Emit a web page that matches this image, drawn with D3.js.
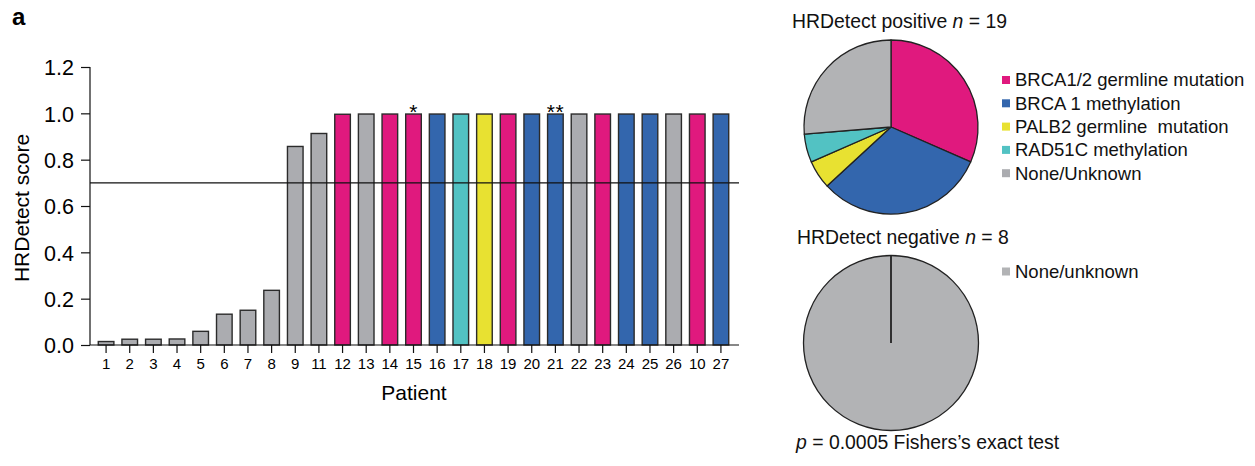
<!DOCTYPE html>
<html>
<head>
<meta charset="utf-8">
<script src="https://cdn.jsdelivr.net/npm/d3@7"></script>
<style>
  body { margin: 0; background: #fff; }
  svg { font-family: "Liberation Sans", Arial, Helvetica, sans-serif; }
</style>
</head>
<body>
<svg id="chart" width="1255" height="466"></svg>
<script>
// bar chart data
const patients = ["1","2","3","4","5","6","7","8","9","11","12","13","14","15","16","17","18","19","20","21","22","23","24","25","26","10","27"];
const scores = [0.015,0.025,0.025,0.026,0.059,0.133,0.150,0.236,0.857,0.913,0.996,0.997,0.997,0.997,0.997,0.997,0.997,0.997,0.997,0.997,0.997,0.997,0.997,0.997,0.997,0.997,0.997];
const groups = ["none","none","none","none","none","none","none","none","none","none","brca","none","brca","brca","meth","rad51c","palb2","brca","meth","meth","none","brca","meth","meth","none","brca","meth"];
const stars = ["","","","","","","","","","","","","","*","","","","","","**","","","","","","",""];
const threshold = 0.7;
const yTicks = [0.0,0.2,0.4,0.6,0.8,1.0,1.2];

// pie data
const categories = ["BRCA1/2 germline mutation","BRCA 1 methylation","PALB2 germline  mutation","RAD51C methylation","None/Unknown"];
const categoryKeys = ["brca","meth","palb2","rad51c","none"];
const positiveCounts = [6,6,1,1,5];
const negativeLabels = ["None/unknown"];
const negativeCounts = [8];

const colors = {brca: "#E0197E", meth: "#3366AD", palb2: "#E8E131", rad51c: "#52C2C3", none: "#ABACB0"};
const pieGrey = "#B2B3B5";

const svg = d3.select("#chart");

// panel label
svg.append("text").attr("x", 12).attr("y", 25)
   .attr("font-size", 24).attr("font-weight", "bold").text("a");

// scales
let x = d3.scaleBand().domain(d3.range(patients.length))
          .range([90, 737]).paddingInner(0.34).paddingOuter(0.35);
let y = d3.scaleLinear().domain([0, 1.2]).range([345, 67]);

// bars
svg.selectAll("rect.bar")
   .data(scores).enter()
   .append("rect")
   .attr("class", "bar")
   .attr("x", (d, i) => x(i))
   .attr("width", x.bandwidth())
   .attr("y", d => y(d))
   .attr("height", d => y(0) - y(d))
   .attr("fill", (d, i) => colors[groups[i]])
   .attr("stroke", "#2b2b2b")
   .attr("stroke-width", 1.4);

// stars
svg.selectAll("text.star")
   .data(stars).enter()
   .append("text")
   .attr("class", "star")
   .attr("x", (d, i) => x(i) + x.bandwidth() / 2)
   .attr("y", (d, i) => y(scores[i]) + 5)
   .attr("text-anchor", "middle")
   .attr("font-size", 21)
   .attr("letter-spacing", 0.5)
   .attr("fill", "#000")
   .text(d => d);

// threshold line
svg.append("line")
   .attr("x1", 90).attr("x2", 739)
   .attr("y1", y(threshold)).attr("y2", y(threshold))
   .attr("stroke", "#111").attr("stroke-width", 1.2);

// y axis
let yAxis = d3.axisLeft(y).tickValues(yTicks).tickFormat(d3.format(".1f"))
              .tickSize(9).tickSizeOuter(0).tickPadding(7);
let gy = svg.append("g").attr("transform", "translate(90,0)").call(yAxis);
gy.selectAll("text").attr("font-size", 21.5).attr("fill", "#000").attr("dy", "0.36em");
gy.selectAll("line, path").attr("stroke", "#111").attr("stroke-width", 1.2);
gy.select("path.domain").attr("d", `M0,${y(1.2)}V${y(0)}`);

// x axis
let xAxis = d3.axisBottom(x).tickFormat(i => patients[i]).tickSize(8).tickSizeOuter(0).tickPadding(5);
let gx = svg.append("g").attr("transform", `translate(0,${y(0)})`).call(xAxis);
gx.selectAll("text").attr("font-size", 15).attr("fill", "#000");
gx.selectAll("line, path").attr("stroke", "#111").attr("stroke-width", 1.2);
gx.select("path.domain").attr("d", "M90,0H739");

// axis titles
svg.append("text")
   .attr("transform", "translate(29,208) rotate(-90)")
   .attr("text-anchor", "middle").attr("font-size", 21).attr("fill", "#000")
   .text("HRDetect score");
svg.append("text")
   .attr("x", 414).attr("y", 400)
   .attr("text-anchor", "middle").attr("font-size", 21).attr("fill", "#000")
   .text("Patient");

// pies
let pie = d3.pie().sort(null).value(d => d);
let arc = d3.arc().innerRadius(0).outerRadius(87);

function title(xp, yp, before, after) {
	let t = svg.append("text").attr("x", xp).attr("y", yp).attr("font-size", 19.4).attr("fill", "#111");
	t.append("tspan").text(before);
	t.append("tspan").attr("font-style", "italic").text("n");
	t.append("tspan").text(after);
}

title(792, 28, "HRDetect positive ", " = 19");
let p1 = svg.append("g").attr("transform", "translate(891,127)");
p1.selectAll("path")
  .data(pie(positiveCounts)).enter()
  .append("path")
  .attr("d", arc)
  .attr("fill", (d, i) => i == 4 ? pieGrey : colors[categoryKeys[i]])
  .attr("stroke", "#222").attr("stroke-width", 1.3).attr("stroke-linejoin", "round");

let legend1 = svg.append("g");
legend1.selectAll("rect")
  .data(categories).enter()
  .append("rect")
  .attr("x", 1002).attr("y", (d, i) => 76 + i * 23.3)
  .attr("width", 8).attr("height", 8)
  .attr("fill", (d, i) => colors[categoryKeys[i]]);
legend1.selectAll("text")
  .data(categories).enter()
  .append("text")
  .attr("x", 1015).attr("y", (d, i) => 80 + i * 23.3)
  .attr("dy", "0.35em")
  .attr("font-size", 18.5).attr("fill", "#111")
  .style("white-space", "pre")
  .text(d => d);

title(797, 244, "HRDetect negative ", " = 8");
let p2 = svg.append("g").attr("transform", "translate(891,343)");
let negPie = pie(negativeCounts);
p2.selectAll("path")
  .data(negPie).enter()
  .append("path")
  .attr("d", d3.arc().innerRadius(0).outerRadius(87.5))
  .attr("fill", pieGrey)
  .attr("stroke", "#222").attr("stroke-width", 1.3);
p2.selectAll("line")
  .data(negPie).enter()
  .append("line")
  .attr("x1", 0).attr("y1", 0)
  .attr("x2", d => 87.5 * Math.sin(d.startAngle))
  .attr("y2", d => -87.5 * Math.cos(d.startAngle))
  .attr("stroke", "#222").attr("stroke-width", 1.8);

svg.selectAll("rect.neg")
  .data(negativeLabels).enter()
  .append("rect").attr("class", "neg")
  .attr("x", 1002).attr("y", (d, i) => 267.5 + i * 23.3)
  .attr("width", 8).attr("height", 8)
  .attr("fill", pieGrey);
svg.selectAll("text.neg")
  .data(negativeLabels).enter()
  .append("text").attr("class", "neg")
  .attr("x", 1015).attr("y", (d, i) => 271.5 + i * 23.3)
  .attr("dy", "0.35em")
  .attr("font-size", 18.5).attr("fill", "#111")
  .text(d => d);

// p value
let pt = svg.append("text").attr("x", 796).attr("y", 449).attr("font-size", 19.4).attr("fill", "#111");
pt.append("tspan").attr("font-style", "italic").text("p");
pt.append("tspan").text(" = 0.0005 Fishers\u2019s exact test");
</script>
</body>
</html>
